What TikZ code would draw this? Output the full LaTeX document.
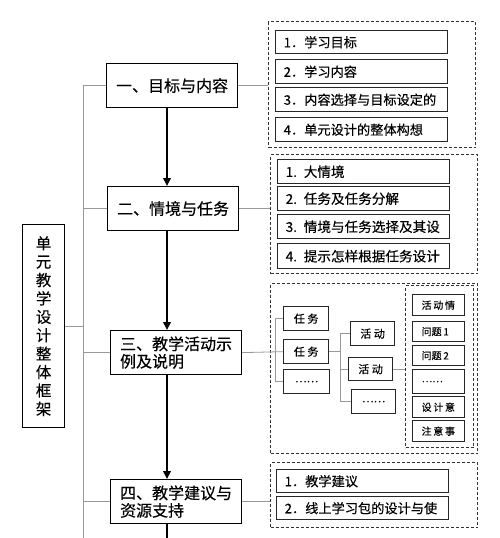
\documentclass[tikz,border=0pt]{standalone}
\usepackage{fontspec}
\setmainfont{Noto Sans CJK SC}[FakeBold=0.3]
\usetikzlibrary{arrows.meta}
\newcommand\tightlines{\lineskiplimit=-20pt\relax\lineskip=0pt\relax}
\begin{document}
\begin{tikzpicture}[x=1pt,y=-1pt,
  mainbox/.style={draw=black, line width=1.2pt, fill=white, inner sep=0pt, anchor=north west,
    font=\fontsize{16}{17.5}\selectfont\tightlines, align=left, minimum width=131pt, minimum height=44pt},
  itembox/.style={draw=black!85, line width=1.4pt, anchor=north west, inner xsep=8pt, inner ysep=0pt,
    font=\fontsize{13.2}{15}\selectfont, align=left, minimum height=24pt, text width=156pt},
  smallbox/.style={draw=black!85, line width=1.3pt, anchor=north west, inner sep=0pt,
    font=\fontsize{11}{13}\selectfont, minimum height=24pt},
  tinybox/.style={draw=black!85, line width=1.3pt, anchor=north west, inner xsep=9pt, inner ysep=0pt,
    font=\fontsize{10}{12}\selectfont, align=left, text width=34pt, minimum height=20pt},
  dbox/.style={draw=black!80, line width=1.2pt, dash pattern=on 3pt off 2pt, anchor=north west, inner sep=0pt},
  link/.style={draw=black!40, line width=0.8pt},
  flow/.style={line width=2.8pt, -{Triangle[length=8pt,width=7.5pt]}}]
\useasboundingbox (0,0) rectangle (500,538);

% left box
\node[draw=black, line width=1.2pt, anchor=north west, minimum width=42pt, minimum height=203pt,
  inner sep=0pt, align=center, font=\fontsize{15.5}{18.4}\selectfont\tightlines] (L) at (22,224)
  {单\\元\\教\\学\\设\\计\\整\\体\\框\\架};

% main boxes
\node[mainbox] (m1) at (106,63) {一、目标与内容};
\node[mainbox] (m2) at (107,186) {二、情境与任务};
\node[mainbox] (m3) at (110,330) {三、教学活动示\\例及说明};
\node[mainbox] (m4) at (110,479) {四、教学建议与\\资源支持};

% trunk and main flow
\coordinate (tr) at (83,0);
\coordinate (ax) at (167,0);
\coordinate (bot) at (167,538);
\draw[link] (m1.west -| tr) -- (bot -| tr);
\draw[link] (L.east) -- (L.east -| tr);
\foreach \m in {m1,m2,m3,m4} \draw[link] (\m.west -| tr) -- (\m.west);
\draw[flow] (m1.south -| ax) -- (m2.north -| ax);
\draw[flow] (m2.south -| ax) -- (m3.north -| ax);
\draw[flow] (m3.south -| ax) -- (m4.north -| ax);
\draw[line width=2.8pt] (m4.south -| ax) -- (bot);

% dashed groups
\node[dbox, minimum width=207pt, minimum height=126pt] (d1) at (268,21) {};
\node[dbox, minimum width=207pt, minimum height=119pt] (d2) at (270,154) {};
\node[dbox, minimum width=207pt, minimum height=170pt] (d3) at (270,283) {};
\node[dbox, minimum width=68pt, minimum height=162pt] (d3i) at (405,285) {};
\node[dbox, minimum width=207pt, minimum height=65pt] (d4) at (270,462) {};

% group 1
\node[itembox, minimum height=23pt] (i11) at (275,30) {1．学习目标};
\node[itembox] (i12) at (275,59) {2．学习内容};
\node[itembox] (i13) at (275,87) {3．内容选择与目标设定的};
\node[itembox] (i14) at (275,117) {4．单元设计的整体构想};

% group 2
\node[itembox, font=\fontsize{13.6}{15}\selectfont] (i21) at (277,159) {1. 大情境};
\node[itembox, font=\fontsize{13.6}{15}\selectfont] (i22) at (277,186) {2. 任务及任务分解};
\node[itembox, font=\fontsize{13.6}{15}\selectfont] (i23) at (277,214) {3. 情境与任务选择及其设};
\node[itembox, font=\fontsize{13.6}{15}\selectfont, minimum height=25pt] (i24) at (277,243) {4. 提示怎样根据任务设计};

% group 4
\node[itembox, minimum height=23pt] (i41) at (276,469) {1．教学建议};
\node[itembox, minimum height=23pt] (i42) at (276,496) {2．线上学习包的设计与使};

% group 3: tasks
\node[smallbox, minimum width=45pt] (t1) at (283,306) {任~务};
\node[smallbox, minimum width=45pt] (t2) at (283,339) {任~务};
\node[smallbox, minimum width=46pt] (t3) at (283,369) {……};
% activities
\node[smallbox, minimum width=44pt] (a1) at (350,321) {活~动};
\node[smallbox, minimum width=44pt, minimum height=23pt] (a2) at (348,357) {活~动};
\node[smallbox, minimum width=44pt] (a3) at (351,389) {……};
% detail column
\node[tinybox, minimum height=21pt] (r1) at (412,294) {活\,动\,情};
\node[tinybox] (r2) at (412,321) {问题\,1};
\node[tinybox] (r3) at (412,345) {问题\,2};
\node[tinybox, minimum height=24pt] (r4) at (412,369) {……};
\node[tinybox, minimum height=21pt] (r5) at (412,396) {设\,计\,意};
\node[tinybox, minimum height=21pt] (r6) at (412,420) {注\,意\,事};

% right connectors
\draw[link] (m1.east) -- (m1.east -| d1.west);
\draw[link] (m2.east) -- (m2.east -| d2.west);
\draw[link] (m4.east) -- (m4.east -| d4.west);
\draw[link] (m3.east) -- (t2.west);
\coordinate (b1) at (275,0);
\draw[link] (t1.west -| b1) -- (t3.west -| b1);
\draw[link] (t1.west -| b1) -- (t1.west);
\draw[link] (t3.west -| b1) -- (t3.west);
\coordinate (b2) at (340,0);
\draw[link] (t2.east) -- (t2.east -| b2);
\draw[link] (a1.west -| b2) -- (a3.west -| b2);
\foreach \a in {a1,a2,a3} \draw[link] (\a.west -| b2) -- (\a.west);
\draw[link] (a2.east) -- (a2.east -| d3i.west);
\end{tikzpicture}
\end{document}
